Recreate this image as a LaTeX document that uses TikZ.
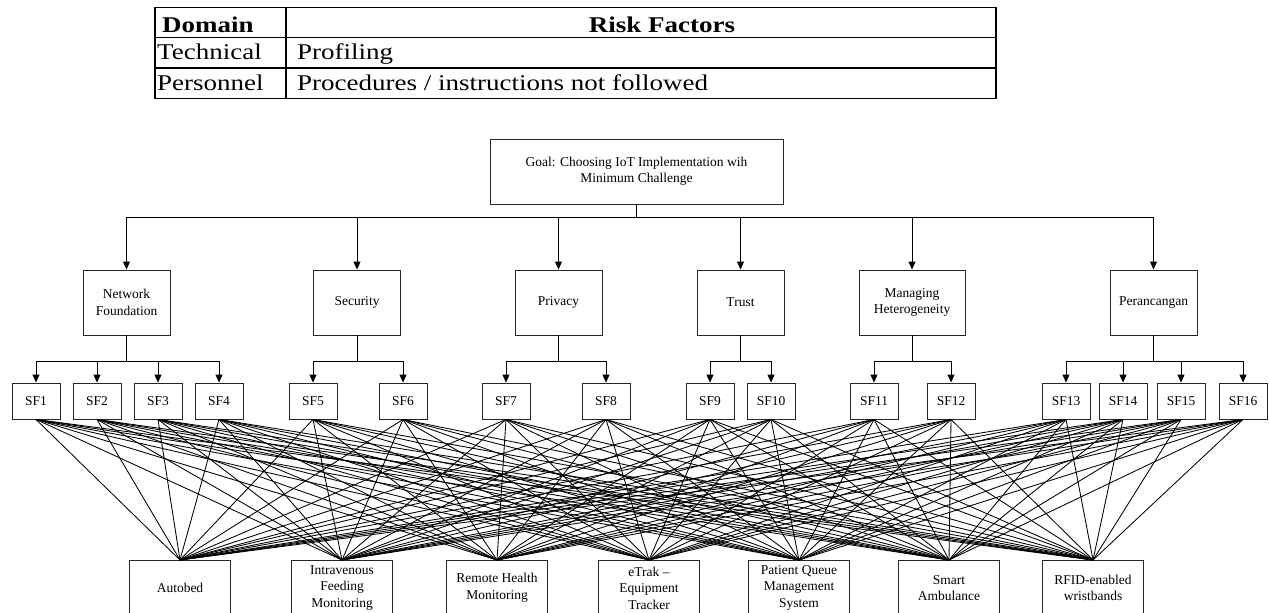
\documentclass[tikz,border=0pt]{standalone}
\usepackage{fontspec}
\setmainfont{Liberation Serif}
\newfontfamily\tabfont[FakeStretch=1.2]{Liberation Serif}
\usetikzlibrary{arrows.meta}
\begin{document}
\begin{tikzpicture}[x=1pt,y=-1pt,
  box/.style={draw=black!85, line width=0.9pt, align=center, inner sep=0pt, fill=white,
    font=\fontsize{13.5}{16.5}\selectfont},
  crit/.style={box, minimum width=87pt, minimum height=65pt},
  sfbox/.style={box, minimum width=48pt, minimum height=36pt},
  alt/.style={box, minimum width=101pt, minimum height=55pt, anchor=north},
  arr/.style={-{Triangle[length=8pt,width=7pt]}, line width=0.9pt},
  link/.style={line width=0.85pt},
  tline/.style={line width=1.8pt},
  ttext/.style={anchor=base west, inner sep=0pt, font=\tabfont\fontsize{22.5}{26}\selectfont},
  thead/.style={inner sep=0pt, font=\tabfont\bfseries\fontsize{22.5}{26}\selectfont}]
\useasboundingbox (0,0) rectangle (1269,613);
\fill[white] (0,0) rectangle (1269,613);

% ---- table ----
\draw[tline] (155,7.5) rectangle (996,98.5);
\draw[tline] (155,37.5) -- (996,37.5);
\draw[tline] (155,68) -- (996,68);
\draw[tline] (286,7.5) -- (286,98.5);
\node[thead, anchor=base west] (hd) at (162,32) {Domain};
\node[thead, anchor=base] (hr) at (662,32) {Risk Factors};
\node[ttext] (t1) at (157,59) {Technical};
\node[ttext] (r1) at (297,59) {Profiling};
\node[ttext] (t2) at (157,90) {Personnel};
\node[ttext] (r2) at (297,90) {Procedures / instructions not followed};

% ---- nodes ----
\node[box, minimum width=293pt, minimum height=65pt] (goal) at (636.5,171.5)
  {Goal: Choosing IoT Implementation wih\\Minimum Challenge};
\node[crit] (c1) at (126.5,302.5) {Network\\Foundation};
\node[crit] (c2) at (357,302.5) {Security};
\node[crit] (c3) at (558.5,302.5) {Privacy};
\node[crit] (c4) at (740.5,302.5) {Trust};
\node[crit, minimum width=106pt] (c5) at (912,302.5) {Managing\\Heterogeneity};
\node[crit] (c6) at (1153.5,302.5) {Perancangan};

\foreach \s/\x in {1/36,2/97,3/158,4/219,5/313,6/403,7/506,8/606,9/710,10/771,11/874,12/951,13/1066,14/1123,15/1181,16/1243}
  \node[sfbox] (s\s) at (\x,401) {SF\s};

\node[alt] (a1) at (180,560) {Autobed};
\node[alt] (a2) at (342,560) {Intravenous\\Feeding\\Monitoring};
\node[alt] (a3) at (497,560) {Remote Health\\Monitoring};
\node[alt] (a4) at (649,560) {eTrak –\\Equipment\\Tracker};
\node[alt] (a5) at (799,560) {Patient Queue\\Management\\System};
\node[alt] (a6) at (949,560) {Smart\\Ambulance};
\node[alt] (a7) at (1093,560) {RFID-enabled\\wristbands};

\foreach \s in {1,...,16}
  \foreach \a in {1,...,7}
    \draw[link] (s\s.south) -- (a\a.north);

% ---- goal to criteria ----
\coordinate (bus) at (0,217);
\draw[line width=0.9pt] (goal.south) -- (goal.south |- bus);
\foreach \c in {1,...,6}
  \draw[arr] (goal.south |- bus) -| (c\c.north);

% ---- criteria to SF ----
\coordinate (sbus) at (0,361);
\foreach \c/\s in {1/1,1/2,1/3,1/4,2/5,2/6,3/7,3/8,4/9,4/10,5/11,5/12,6/13,6/14,6/15,6/16}
  \draw[arr] (c\c.south) -- (c\c.south |- sbus) -| (s\s.north);
\end{tikzpicture}
\end{document}
